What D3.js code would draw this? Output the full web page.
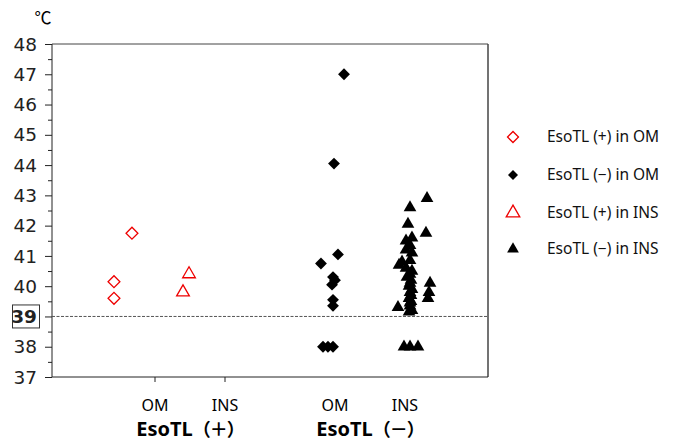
<!DOCTYPE html>
<html>
<head>
<meta charset="utf-8">
<script src="https://cdn.jsdelivr.net/npm/d3@7"></script>
<style>
body { margin: 0; background: #fff; }
</style>
</head>
<body>
<svg id="chart" width="685" height="442"></svg>
<script>
// category label positions (x units, 1 unit = spacing OM -> INS)
var catLabels = ["OM", "INS", "OM", "INS"];
var catX = [1, 2, 3.571, 4.571];
var groupNames = ["EsoTL", "EsoTL"];
var groupSigns = ["（＋）", "（－）"];
var groupX = [1.5, 4.071];

var yTicks = [37, 38, 39, 40, 41, 42, 43, 44, 45, 46, 47, 48];
var threshold = 39;

// EsoTL(+) in OM
var posOM_x = [0.414, 0.414, 0.671];
var posOM_y = [40.15, 39.6, 41.75];
// EsoTL(+) in INS
var posINS_x = [1.486, 1.4];
var posINS_y = [40.4, 39.8];
// EsoTL(-) in OM
var negOM_x = [3.7, 3.557, 3.614, 3.371, 3.543, 3.571, 3.529, 3.543, 3.543, 3.4, 3.471, 3.543];
var negOM_y = [47.0, 44.05, 41.05, 40.75, 40.3, 40.2, 40.05, 39.55, 39.35, 38.0, 38.0, 38.0];
// EsoTL(-) in INS
var negINS_x = [4.886, 4.643, 4.614, 4.871, 4.671, 4.586, 4.643, 4.586, 4.671, 4.643, 4.529,
                4.486, 4.586, 4.671, 4.643, 4.6, 4.657, 4.643, 4.929, 4.629, 4.671, 4.914,
                4.643, 4.657, 4.9, 4.629, 4.657, 4.643, 4.643, 4.471, 4.671, 4.629,
                4.557, 4.643, 4.757];
var negINS_y = [42.9, 42.6, 42.05, 41.75, 41.6, 41.5, 41.35, 41.2, 41.1, 40.85, 40.8,
                40.7, 40.6, 40.5, 40.4, 40.3, 40.2, 40.1, 40.1, 40.0, 39.9, 39.8,
                39.8, 39.7, 39.6, 39.6, 39.5, 39.45, 39.35, 39.3, 39.2, 39.15,
                38.0, 38.0, 38.0];

var legendLabels = ["EsoTL (+) in OM", "EsoTL  (\u2212) in OM", "EsoTL (+) in INS", "EsoTL  (\u2212) in INS"];

var svg = d3.select("#chart");
var pLeft = 52, pRight = 488, pTop = 44, pBottom = 377;

var x = d3.scaleLinear().domain([1 - 103 / 70, 1 + 333 / 70]).range([pLeft, pRight]);
var y = d3.scaleLinear().domain([37, 48]).range([pBottom, pTop]);

// frame
svg.append("line").attr("x1", pLeft).attr("x2", pRight).attr("y1", pTop).attr("y2", pTop)
    .attr("stroke", "#444").attr("stroke-width", 1);
svg.append("line").attr("x1", pRight).attr("x2", pRight).attr("y1", pTop).attr("y2", pBottom)
    .attr("stroke", "#444").attr("stroke-width", 1.5);

// y axis
var yAxis = d3.axisLeft(y).tickValues(d3.range(37, 48.01, 0.5)).tickSize(6).tickFormat("");
var gy = svg.append("g").attr("transform", "translate(" + pLeft + ",0)").call(yAxis);
gy.select(".domain").remove();
gy.selectAll(".tick line").attr("stroke", "#222")
    .attr("x2", function(d) { return d % 1 === 0 ? -7 : -4; });
svg.append("line").attr("x1", pLeft).attr("x2", pLeft).attr("y1", pTop).attr("y2", pBottom)
    .attr("stroke", "#222");

svg.selectAll("text.ylab").data(yTicks).enter().append("text")
    .attr("class", "ylab")
    .attr("x", 37).attr("y", function(d) { return y(d); })
    .attr("dy", "0.36em")
    .attr("text-anchor", "end")
    .style("font-family", "DejaVu Sans")
    .style("font-size", "18.5px")
    .style("font-weight", function(d) { return d === threshold ? "bold" : "normal"; })
    .attr("fill", "#222")
    .text(function(d) { return d; });

// box around threshold label
svg.append("rect").attr("x", 12.5).attr("y", y(threshold) - 11.5)
    .attr("width", 27).attr("height", 23)
    .attr("fill", "none").attr("stroke", "#333").attr("stroke-width", 1);

svg.append("text").attr("x", 43).attr("y", 24)
    .attr("text-anchor", "middle")
    .style("font-family", "Noto Sans CJK JP")
    .style("font-size", "17px")
    .text("℃");

// threshold line
svg.append("line").attr("x1", pLeft).attr("x2", pRight)
    .attr("y1", y(threshold)).attr("y2", y(threshold))
    .attr("stroke", "#555").attr("stroke-dasharray", "3,1.5").attr("stroke-width", 1);

// x axis line
svg.append("line").attr("x1", pLeft).attr("x2", pRight).attr("y1", pBottom).attr("y2", pBottom)
    .attr("stroke", "#222");
svg.selectAll("line.xtick").data(catX.slice(0, 2)).enter().append("line")
    .attr("class", "xtick")
    .attr("x1", function(d) { return x(d); }).attr("x2", function(d) { return x(d); })
    .attr("y1", pBottom).attr("y2", pBottom + 5)
    .attr("stroke", "#222");

svg.selectAll("text.cat").data(catLabels).enter().append("text")
    .attr("class", "cat")
    .attr("x", function(d, i) { return x(catX[i]); })
    .attr("y", 411)
    .attr("text-anchor", "middle")
    .style("font-family", "Noto Sans")
    .style("font-size", "16px")
    .text(function(d) { return d; });

var grp = svg.selectAll("text.grp").data(groupNames).enter().append("text")
    .attr("class", "grp")
    .attr("x", function(d, i) { return x(groupX[i]); })
    .attr("y", 436)
    .attr("text-anchor", "middle")
    .style("font-size", "20px")
    .style("font-weight", "bold");
grp.append("tspan")
    .style("font-family", "Noto Sans")
    .text(function(d) { return d; });
grp.append("tspan")
    .style("font-family", "Noto Sans CJK JP")
    .style("font-size", "18px")
    .style("letter-spacing", "-1px")
    .text(function(d, i) { return groupSigns[i]; });

// markers
var diamond = d3.symbol().type(d3.symbolSquare).size(70);
var triangle = d3.symbol().type(d3.symbolTriangle).size(70);

function drawSeries(xs, ys, sym, rot, fill, stroke) {
    svg.append("g").selectAll("path").data(ys).enter().append("path")
        .attr("d", sym)
        .attr("transform", function(d, i) {
            return "translate(" + x(xs[i]) + "," + y(d) + ") rotate(" + rot + ")";
        })
        .attr("fill", fill)
        .attr("stroke", stroke)
        .attr("stroke-width", 1.3);
}
drawSeries(negOM_x, negOM_y, diamond, 45, "#000", "none");
drawSeries(negINS_x, negINS_y, triangle, 0, "#000", "none");
drawSeries(posOM_x, posOM_y, diamond, 45, "#fff", "#e00");
drawSeries(posINS_x, posINS_y, triangle, 0, "#fff", "#e00");

// legend
var legSyms = [
    {sym: d3.symbol().type(d3.symbolSquare).size(60), rot: 45, fill: "#fff", stroke: "#e00"},
    {sym: d3.symbol().type(d3.symbolSquare).size(50), rot: 45, fill: "#000", stroke: "none"},
    {sym: d3.symbol().type(d3.symbolTriangle).size(80), rot: 0, fill: "#fff", stroke: "#e00"},
    {sym: d3.symbol().type(d3.symbolTriangle).size(60), rot: 0, fill: "#000", stroke: "none"}
];
var legY = [137, 175, 213, 249];
var leg = svg.selectAll("g.leg").data(legendLabels).enter().append("g")
    .attr("class", "leg")
    .attr("transform", function(d, i) { return "translate(0," + legY[i] + ")"; });
leg.append("path")
    .attr("d", function(d, i) { return legSyms[i].sym(); })
    .attr("transform", function(d, i) { return "translate(513,0) rotate(" + legSyms[i].rot + ")"; })
    .attr("fill", function(d, i) { return legSyms[i].fill; })
    .attr("stroke", function(d, i) { return legSyms[i].stroke; })
    .attr("stroke-width", 1.3);
leg.append("text")
    .attr("x", 547).attr("dy", "0.35em")
    .style("font-family", "Noto Sans")
    .style("font-size", "15.5px")
    .attr("fill", "#111")
    .text(function(d) { return d; });
</script>
</body>
</html>
